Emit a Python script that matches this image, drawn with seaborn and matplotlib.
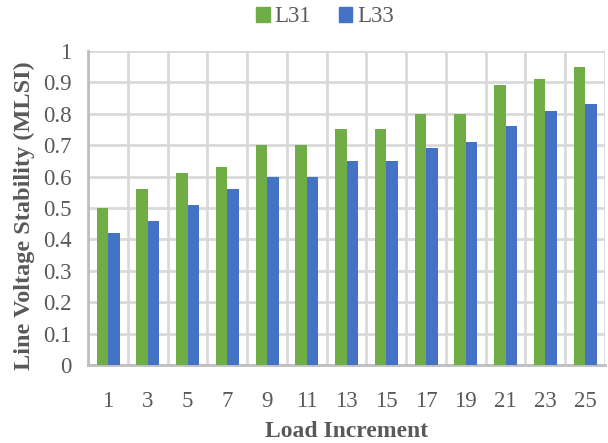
import matplotlib
matplotlib.use("Agg")
import matplotlib.pyplot as plt
import seaborn as sns
import pandas as pd
import numpy as np

# Load increments and line stability index values for each line
increments = ["1", "3", "5", "7", "9", "11", "13", "15", "17", "19", "21", "23", "25"]
l31 = [0.50, 0.56, 0.61, 0.63, 0.70, 0.70, 0.75, 0.75, 0.80, 0.80, 0.89, 0.91, 0.95]
l33 = [0.42, 0.46, 0.51, 0.56, 0.60, 0.60, 0.65, 0.65, 0.69, 0.71, 0.76, 0.81, 0.83]
series_names = ["L31", "L33"]
colors = ["#70AD47", "#4472C4"]

df = pd.DataFrame({
    "Load Increment": increments * 2,
    "MLSI": l31 + l33,
    "Line": [series_names[0]] * len(increments) + [series_names[1]] * len(increments),
})

sns.set_theme(style="white")
plt.rcParams["font.family"] = ["Liberation Serif", "DejaVu Serif"]

fig = plt.figure(figsize=(6.08, 4.43), dpi=100)
ax = fig.add_axes([0.145, 0.176, 0.85, 0.709])

sns.barplot(data=df, x="Load Increment", y="MLSI", hue="Line",
            order=increments, hue_order=series_names,
            palette=colors, width=0.58, gap=0, saturation=1,
            linewidth=0, ax=ax, zorder=3)

text_color = "#595959"
grid_color = "#D9D9D9"

ax.set_ylim(0, 1)
ax.set_xlim(-0.5, len(increments) - 0.5)
ax.set_yticks(np.arange(0, 1.01, 0.1))
ax.set_yticklabels(["0", "0.1", "0.2", "0.3", "0.4", "0.5", "0.6",
                    "0.7", "0.8", "0.9", "1"])
ax.set_xticks(range(len(increments)))
ax.set_xticklabels(increments)
ax.set_xticks(np.arange(-0.5, len(increments), 1.0), minor=True)

ax.grid(True, axis="y", which="major", color=grid_color, linewidth=2, zorder=0)
ax.grid(True, axis="x", which="minor", color=grid_color, linewidth=2, zorder=0)
ax.grid(False, axis="x", which="major")
ax.set_axisbelow(True)

for side in ["top", "right"]:
    ax.spines[side].set_visible(False)
for side in ["left", "bottom"]:
    ax.spines[side].set_color("#BFBFBF")
    ax.spines[side].set_linewidth(2)

ax.tick_params(axis="x", which="both", length=0, pad=19, labelsize=16.5, labelcolor=text_color)
ax.tick_params(axis="y", which="both", length=0, pad=12, labelsize=16.5, labelcolor=text_color)

ax.set_xlabel("Load Increment", fontsize=17, fontweight="bold", color=text_color, labelpad=6)
ax.set_ylabel("Line Voltage Stability (MLSI)", fontsize=17.5, fontweight="bold",
              color=text_color, va="center")
ax.yaxis.set_label_coords(-0.124, 0.475)

ax.legend_.remove()
handles = [plt.Rectangle((0, 0), 1, 1, color=c) for c in colors]
fig.legend(handles, series_names, loc="center", bbox_to_anchor=(325 / 608, 1 - 17 / 443),
           ncol=2, frameon=False, fontsize=16.5, handlelength=0.6, handleheight=0.6,
           handletextpad=0.2, columnspacing=1.2, labelcolor=text_color)

fig.savefig("out.png", dpi=100)
